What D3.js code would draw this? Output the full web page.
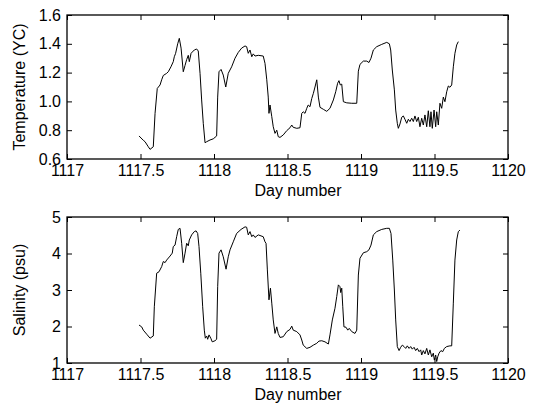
<!DOCTYPE html>
<html>
<head>
<meta charset="utf-8">
<script src="https://cdn.jsdelivr.net/npm/d3@7"></script>
<style>
  body { margin: 0; background: #fff; }
  svg text { font-family: "Liberation Sans", Arial, sans-serif; }
</style>
</head>
<body>
<div id="chart"></div>
<script>
// day numbers and values
const tempDays = [1117.490, 1117.519, 1117.531, 1117.553, 1117.565, 1117.587, 1117.599, 1117.614, 1117.633, 1117.644,
  1117.655, 1117.678, 1117.689, 1117.707, 1117.723, 1117.730, 1117.739, 1117.753, 1117.764, 1117.776,
  1117.791, 1117.803, 1117.814, 1117.825, 1117.832, 1117.844, 1117.866, 1117.882, 1117.893, 1117.905,
  1117.916, 1117.927, 1117.939, 1117.950, 1117.973, 1117.995, 1118.018, 1118.025, 1118.034, 1118.048,
  1118.063, 1118.080, 1118.097, 1118.120, 1118.143, 1118.165, 1118.188, 1118.211, 1118.222, 1118.233,
  1118.245, 1118.257, 1118.267, 1118.279, 1118.301, 1118.335, 1118.347, 1118.359, 1118.369, 1118.374,
  1118.381, 1118.393, 1118.403, 1118.415, 1118.427, 1118.437, 1118.449, 1118.471, 1118.495, 1118.517,
  1118.529, 1118.539, 1118.563, 1118.585, 1118.597, 1118.607, 1118.619, 1118.631, 1118.641, 1118.653,
  1118.665, 1118.676, 1118.687, 1118.699, 1118.710, 1118.721, 1118.744, 1118.767, 1118.789, 1118.812,
  1118.828, 1118.841, 1118.850, 1118.859, 1118.869, 1118.880, 1118.903, 1118.937, 1118.971, 1118.982,
  1118.993, 1119.016, 1119.039, 1119.054, 1119.068, 1119.084, 1119.107, 1119.141, 1119.175, 1119.193,
  1119.202, 1119.213, 1119.227, 1119.236, 1119.247, 1119.254, 1119.265, 1119.277, 1119.288, 1119.299,
  1119.311, 1119.322, 1119.333, 1119.345, 1119.356, 1119.367, 1119.379, 1119.390, 1119.401, 1119.413,
  1119.424, 1119.435, 1119.447, 1119.458, 1119.469, 1119.476, 1119.485, 1119.497, 1119.508, 1119.515,
  1119.526, 1119.537, 1119.549, 1119.560, 1119.571, 1119.583, 1119.594, 1119.605, 1119.617, 1119.628,
  1119.639, 1119.651, 1119.662]
const tempValues = [0.76, 0.73, 0.72, 0.685, 0.667, 0.685, 0.917, 1.09, 1.114, 1.15,
  1.18, 1.195, 1.206, 1.24, 1.276, 1.31, 1.334, 1.40, 1.438, 1.37,
  1.206, 1.25, 1.29, 1.32, 1.276, 1.334, 1.357, 1.364, 1.35, 1.195,
  1.01, 0.848, 0.713, 0.72, 0.732, 0.74, 0.76, 1.03, 1.206, 1.222,
  1.183, 1.10, 1.195, 1.24, 1.30, 1.34, 1.37, 1.385, 1.38, 1.334,
  1.357, 1.31, 1.33, 1.315, 1.32, 1.315, 1.264, 1.15, 1.03, 0.917,
  0.975, 0.894, 0.824, 0.778, 0.80, 0.755, 0.75, 0.767, 0.797, 0.817,
  0.836, 0.82, 0.813, 0.817, 0.917, 0.928, 0.917, 0.952, 0.975, 0.963,
  1.02, 1.056, 1.10, 1.15, 1.03, 0.959, 0.945, 0.931, 0.952, 1.01,
  1.067, 1.126, 1.144, 1.114, 1.12, 0.998, 0.99, 0.987, 0.987, 1.21,
  1.257, 1.28, 1.28, 1.27, 1.30, 1.357, 1.38, 1.396, 1.41, 1.40,
  1.357, 1.218, 1.08, 0.94, 0.848, 0.813, 0.843, 0.89, 0.899, 0.876,
  0.848, 0.876, 0.86, 0.883, 0.86, 0.899, 0.86, 0.89, 0.824, 0.883,
  0.836, 0.906, 0.824, 0.935, 0.824, 0.928, 0.813, 0.94, 0.824, 0.928,
  0.836, 0.987, 0.952, 1.03, 0.998, 1.067, 1.107, 1.098, 1.114, 1.24,
  1.334, 1.392, 1.415]

const salDays = [1117.490, 1117.508, 1117.519, 1117.542, 1117.565, 1117.587, 1117.594, 1117.610, 1117.626, 1117.644,
  1117.655, 1117.667, 1117.678, 1117.701, 1117.716, 1117.723, 1117.735, 1117.746, 1117.757, 1117.769,
  1117.780, 1117.791, 1117.803, 1117.814, 1117.825, 1117.832, 1117.848, 1117.866, 1117.878, 1117.889,
  1117.898, 1117.910, 1117.923, 1117.934, 1117.941, 1117.950, 1117.957, 1117.966, 1117.978, 1117.988,
  1118.007, 1118.018, 1118.025, 1118.034, 1118.048, 1118.063, 1118.082, 1118.097, 1118.109, 1118.131,
  1118.154, 1118.184, 1118.211, 1118.222, 1118.233, 1118.245, 1118.257, 1118.267, 1118.279, 1118.301,
  1118.335, 1118.347, 1118.354, 1118.363, 1118.374, 1118.384, 1118.393, 1118.403, 1118.415, 1118.427,
  1118.437, 1118.449, 1118.471, 1118.495, 1118.517, 1118.529, 1118.539, 1118.563, 1118.585, 1118.597,
  1118.607, 1118.631, 1118.653, 1118.676, 1118.699, 1118.714, 1118.733, 1118.755, 1118.778, 1118.789,
  1118.805, 1118.823, 1118.835, 1118.846, 1118.857, 1118.862, 1118.869, 1118.876, 1118.884, 1118.898,
  1118.910, 1118.920, 1118.937, 1118.959, 1118.971, 1118.982, 1118.993, 1119.016, 1119.039, 1119.054,
  1119.068, 1119.084, 1119.107, 1119.141, 1119.175, 1119.193, 1119.204, 1119.216, 1119.227, 1119.236,
  1119.247, 1119.259, 1119.270, 1119.281, 1119.293, 1119.304, 1119.315, 1119.327, 1119.338, 1119.349,
  1119.361, 1119.372, 1119.383, 1119.395, 1119.406, 1119.413, 1119.424, 1119.435, 1119.447, 1119.458,
  1119.469, 1119.481, 1119.492, 1119.499, 1119.508, 1119.515, 1119.522, 1119.531, 1119.544, 1119.556,
  1119.567, 1119.583, 1119.605, 1119.617, 1119.628, 1119.639, 1119.651, 1119.662, 1119.673]
const salValues = [2.04, 1.99, 1.90, 1.79, 1.68, 1.74, 2.54, 3.46, 3.50, 3.64,
  3.78, 3.75, 3.82, 3.93, 4.01, 4.19, 4.23, 4.46, 4.66, 4.69,
  4.28, 3.75, 4.01, 4.28, 4.21, 4.37, 4.51, 4.60, 4.62, 4.55,
  4.19, 3.46, 2.54, 1.90, 1.68, 1.74, 1.65, 1.77, 1.68, 1.58,
  1.61, 1.65, 3.09, 4.01, 4.10, 3.91, 3.57, 3.91, 4.10, 4.32,
  4.55, 4.66, 4.73, 4.72, 4.51, 4.60, 4.46, 4.51, 4.44, 4.51,
  4.46, 4.32, 4.28, 3.55, 2.73, 3.05, 2.64, 2.18, 1.81, 1.99,
  1.81, 1.70, 1.72, 1.86, 1.92, 2.01, 1.90, 1.86, 1.77, 1.63,
  1.49, 1.40, 1.43, 1.49, 1.54, 1.60, 1.61, 1.58, 1.52, 1.77,
  2.18, 2.50, 2.82, 3.14, 3.09, 2.93, 3.05, 2.54, 1.99, 1.98,
  1.90, 1.95, 1.86, 1.81, 1.90, 3.41, 3.87, 4.02, 4.05, 4.10,
  4.23, 4.51, 4.60, 4.66, 4.69, 4.69, 4.55, 3.82, 3.00, 2.18,
  1.45, 1.34, 1.43, 1.49, 1.45, 1.40, 1.47, 1.40, 1.45, 1.38,
  1.43, 1.34, 1.40, 1.31, 1.36, 1.22, 1.34, 1.25, 1.40, 1.22,
  1.36, 1.17, 1.27, 1.08, 1.22, 1.04, 1.17, 1.27, 1.34, 1.31,
  1.40, 1.45, 1.47, 1.47, 2.64, 3.82, 4.37, 4.60, 4.64]

const dayTicks = [1117, 1117.5, 1118, 1118.5, 1119, 1119.5, 1120]
const tempTicks = [0.6, 0.8, 1.0, 1.2, 1.4, 1.6]
const salTicks = [1, 2, 3, 4, 5]

const width = 538, height = 407

var svg = d3.select('#chart').append('svg')
  .attr('width', width)
  .attr('height', height)

// one panel = box, inward ticks on all four sides, labels, trace
function panel(opts) {
  const x = d3.scaleLinear().domain([1117, 1120]).range([67, 508])
  const y = d3.scaleLinear().domain(opts.domain).range([opts.bottom, opts.top])

  var g = svg.append('g')

  g.append('g')
    .attr('transform', 'translate(0,' + opts.bottom + ')')
    .call(d3.axisBottom(x).tickValues(dayTicks).tickSizeInner(-5).tickSizeOuter(0).tickPadding(6)
      .tickFormat(d3.format('')))
  g.append('g')
    .attr('transform', 'translate(0,' + opts.top + ')')
    .call(d3.axisTop(x).tickValues(dayTicks).tickSizeInner(-5).tickSizeOuter(0).tickFormat(''))
  g.append('g')
    .attr('transform', 'translate(67,0)')
    .call(d3.axisLeft(y).tickValues(opts.ticks).tickSizeInner(-5).tickSizeOuter(0).tickPadding(6)
      .tickFormat(opts.format))
  g.append('g')
    .attr('transform', 'translate(508,0)')
    .call(d3.axisRight(y).tickValues(opts.ticks).tickSizeInner(-5).tickSizeOuter(0).tickFormat(''))

  g.selectAll('.domain').remove()
  g.selectAll('.tick line').attr('stroke', '#000').attr('stroke-width', 1)
  g.selectAll('.tick text').attr('fill', '#000').style('font-size', '16px')

  g.append('rect')
    .attr('x', 67).attr('y', opts.top)
    .attr('width', 441).attr('height', opts.bottom - opts.top)
    .attr('fill', 'none').attr('stroke', '#000').attr('stroke-width', 1.3)

  const line = d3.line()
    .x(function(d, i) { return x(opts.days[i]) })
    .y(function(d) { return y(d) })

  g.append('path')
    .datum(opts.values)
    .attr('d', line)
    .attr('fill', 'none')
    .attr('stroke', '#000')
    .attr('stroke-width', 1)

  g.append('text')
    .attr('x', 298).attr('y', opts.bottom + 37)
    .attr('text-anchor', 'middle')
    .style('font-size', '16px')
    .text('Day number')

  g.append('text')
    .attr('transform', 'translate(25,' + (opts.top + opts.bottom) / 2 + ') rotate(-90)')
    .attr('text-anchor', 'middle')
    .style('font-size', '16px')
    .text(opts.label)
}

panel({ top: 15, bottom: 159, domain: [0.6, 1.6], ticks: tempTicks, format: d3.format('.1f'),
  days: tempDays, values: tempValues, label: 'Temperature (ΥC)' })
panel({ top: 217, bottom: 363, domain: [1, 5], ticks: salTicks, format: d3.format('d'),
  days: salDays, values: salValues, label: 'Salinity (psu)' })
</script>
</body>
</html>
